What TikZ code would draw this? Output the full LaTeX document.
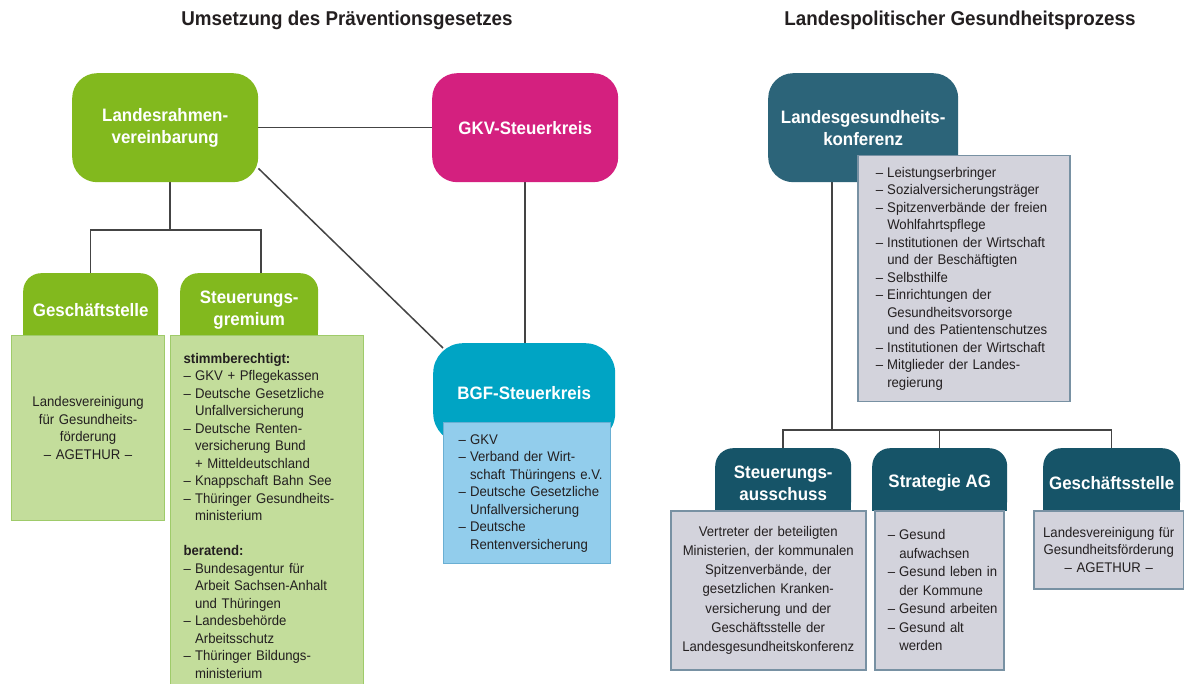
\documentclass[tikz,border=0pt]{standalone}
\usepackage{fontspec}
\setmainfont{Liberation Sans}[FakeStretch=0.94]
\usetikzlibrary{backgrounds}
\definecolor{gtab}{HTML}{82B91E}
\definecolor{glight}{HTML}{C3DD9B}
\definecolor{gborder}{HTML}{9FCB6A}
\definecolor{magc}{HTML}{D4207F}
\definecolor{bgfteal}{HTML}{00A4C4}
\definecolor{lblue}{HTML}{92CDEC}
\definecolor{lbborder}{HTML}{6AAFD3}
\definecolor{lgkteal}{HTML}{2C6479}
\definecolor{dtab}{HTML}{165468}
\definecolor{gboxc}{HTML}{D3D3DC}
\definecolor{gboxborder}{HTML}{7891A3}
\definecolor{connc}{HTML}{444444}
\definecolor{txt}{HTML}{231F20}
\newcommand{\lidash}[1]{\mbox{\makebox[11.5pt][l]{–}#1}}
\newcommand{\liind}[1]{\mbox{\hspace*{11.5pt}#1}}
\tikzset{
  hd/.style={font=\fontsize{18}{22}\selectfont\bfseries, text=white, align=center, inner sep=0pt},
  bigbox/.style={hd, rounded corners=25pt, minimum width=186pt, minimum height=109pt, anchor=north west},
  tabbox/.style={hd, rounded corners=18pt, minimum height=73pt, anchor=north west},
  greenbox/.style={fill=glight, draw=gborder, line width=1.2pt},
  bluebox/.style={fill=lblue, draw=lbborder, line width=1.2pt},
  graybox/.style={fill=gboxc, draw=gboxborder, line width=1.5pt},
  body/.style={font=\fontsize{14}{17.5}\selectfont, text=txt, inner ysep=0pt, anchor=north west},
  conn/.style={draw=connc, line width=1.5pt},
  title/.style={font=\fontsize{20}{24}\selectfont\bfseries, text=txt, inner sep=0pt}
}
\begin{document}
\begin{tikzpicture}[x=1pt,y=-1pt]
\useasboundingbox (0,0) rectangle (1184,684);
% titles
\node[title] (t1) at (347,20) {Umsetzung des Präventionsgesetzes};
\node[title] (t2) at (960,20) {Landespolitischer Gesundheitsprozess};
% top boxes
\node[bigbox, fill=gtab] (lrv) at (72,73) {Landesrahmen-\\vereinbarung};
\node[bigbox, fill=magc] (gkv) at (432,73) {GKV-Steuerkreis};
\node[bigbox, fill=lgkteal, minimum width=190pt] (lgk) at (768,73) {Landesgesundheits-\\konferenz};
% left tabs
\fill[gtab] (23,300) rectangle (158,336);
\node[tabbox, fill=gtab, minimum width=135pt] (gst) at (23,273) {Geschäftstelle};
\fill[gtab] (180,300) rectangle (318,336);
\node[tabbox, fill=gtab, minimum width=138pt] (sgt) at (180,273) {Steuerungs-\\gremium};
\node[body, greenbox, text width=145pt, inner xsep=4pt, minimum height=185pt, align=center] (gsb) at (11,335)
  {Landesvereinigung\\für Gesundheits-\\förderung\\– AGETHUR –};
\node[body, greenbox, text width=167pt, inner xsep=13pt, minimum height=360pt, align=left] (sgb) at (170,335)
  {\textbf{stimmberechtigt:}\\
   \lidash{GKV + Pflegekassen}\\
   \lidash{Deutsche Gesetzliche}\\
   \liind{Unfallversicherung}\\
   \lidash{Deutsche Renten-}\\
   \liind{versicherung Bund}\\
   \liind{+ Mitteldeutschland}\\
   \lidash{Knappschaft Bahn See}\\
   \lidash{Thüringer Gesundheits-}\\
   \liind{ministerium}\\[17.5pt]
   \textbf{beratend:}\\
   \lidash{Bundesagentur für}\\
   \liind{Arbeit Sachsen-Anhalt}\\
   \liind{und Thüringen}\\
   \lidash{Landesbehörde}\\
   \liind{Arbeitsschutz}\\
   \lidash{Thüringer Bildungs-}\\
   \liind{ministerium}};
% BGF
\node[hd, fill=bgfteal, rounded corners=30pt, minimum width=182pt, minimum height=100pt, anchor=north west] (bgf) at (433,343) {BGF-Steuerkreis};
\node[body, bluebox, text width=137pt, inner xsep=15pt, minimum height=141pt, align=left] (bgfb) at (443,422)
  {\lidash{GKV}\\
   \lidash{Verband der Wirt-}\\
   \liind{schaft Thüringens e.V.}\\
   \lidash{Deutsche Gesetzliche}\\
   \liind{Unfallversicherung}\\
   \lidash{Deutsche}\\
   \liind{Rentenversicherung}};
% right gray list
\node[body, graybox, text width=176pt, inner xsep=18pt, minimum height=246pt, align=left] (lgkb) at (857,155)
  {\lidash{Leistungserbringer}\\
   \lidash{Sozialversicherungsträger}\\
   \lidash{Spitzenverbände der freien}\\
   \liind{Wohlfahrtspflege}\\
   \lidash{Institutionen der Wirtschaft}\\
   \liind{und der Beschäftigten}\\
   \lidash{Selbsthilfe}\\
   \lidash{Einrichtungen der}\\
   \liind{Gesundheitsvorsorge}\\
   \liind{und des Patientenschutzes}\\
   \lidash{Institutionen der Wirtschaft}\\
   \lidash{Mitglieder der Landes-}\\
   \liind{regierung}};
% right tabs
\fill[dtab] (715,480) rectangle (851,511);
\node[tabbox, fill=dtab, minimum width=136pt, minimum height=70pt] (sat) at (715,448) {Steuerungs-\\ausschuss};
\fill[dtab] (872,480) rectangle (1007,511);
\node[tabbox, fill=dtab, minimum width=135pt, minimum height=70pt] (sagt) at (872,448) {Strategie AG};
\fill[dtab] (1043,480) rectangle (1180,511);
\node[tabbox, fill=dtab, minimum width=137pt, minimum height=70pt] (gs2t) at (1043,448) {Geschäftsstelle};
\node[body, graybox, font=\fontsize{14}{19.2}\selectfont, text width=183pt, inner xsep=6pt, minimum height=159pt, align=center] (sab) at (670,510)
  {Vertreter der beteiligten\\Ministerien, der kommunalen\\Spitzenverbände, der\\gesetzlichen Kranken-\\versicherung und der\\Geschäftsstelle der\\Landesgesundheitskonferenz};
\node[body, graybox, font=\fontsize{14}{18.5}\selectfont, text width=103pt, inner xsep=13pt, minimum height=159pt, align=left] (sagb) at (874,510)
  {\lidash{Gesund}\\
   \liind{aufwachsen}\\
   \lidash{Gesund leben in}\\
   \liind{der Kommune}\\
   \lidash{Gesund arbeiten}\\
   \lidash{Gesund alt}\\
   \liind{werden}};
\node[body, graybox, text width=140pt, inner xsep=5pt, minimum height=78pt, align=center] (gs2b) at (1033,510)
  {Landesvereinigung für\\Gesundheitsförderung\\– AGETHUR –};
% connectors
\coordinate (jl) at (170,230);
\coordinate (jr) at (832,430);
\begin{scope}[on background layer]
\fill[white] (0,0) rectangle (1184,684);
\draw[conn] (lrv.east) -- (gkv.west);
\draw[conn] (lrv.south -| jl) -- (jl);
\draw[conn] (gst.north) |- (jl) -| ([xshift=12pt]sgt.north);
\draw[conn] ([yshift=14pt]lrv.south east) -- ([xshift=10pt,yshift=-5pt]bgf.north west);
\draw[conn] (gkv.south) -- (gkv.south |- bgf.north);
\draw[conn] (lgk.south -| jr) -- (jr);
\draw[conn] (sat.north) |- (jr) -| (gs2t.north);
\draw[conn] (sagt.north) -- (sagt.north |- jr);
\end{scope}
\end{tikzpicture}
\end{document}
